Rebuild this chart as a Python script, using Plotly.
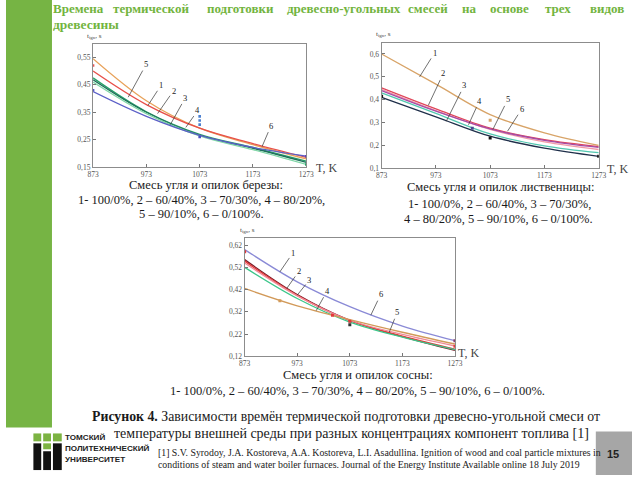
import plotly.graph_objects as go

# ---------------- data ----------------
T = [873, 973, 1073, 1173, 1273]
T_TICKS = [873, 973, 1073, 1173, 1273]

# Chart 1: birch
birch_5 = [0.545, 0.392, 0.292, 0.232, 0.180]
birch_1 = [0.500, 0.378, 0.292, 0.236, 0.186]
birch_2 = [0.475, 0.352, 0.270, 0.222, 0.172]
birch_3 = [0.468, 0.350, 0.267, 0.219, 0.168]
birch_4 = [0.460, 0.345, 0.264, 0.214, 0.160]
birch_6 = [0.425, 0.335, 0.266, 0.222, 0.190]
birch_pts_T = [873, 873, 1073, 1073, 1073, 1073, 1273, 1273]
birch_pts_v = [0.520, 0.430, 0.335, 0.320, 0.305, 0.260, 0.190, 0.160]
birch_yticks = [0.15, 0.25, 0.35, 0.45, 0.55]
birch_ylabels = ["0,15", "0,25", "0,35", "0,45", "0,55"]

# Chart 2: larch
larch_1 = [0.600, 0.468, 0.335, 0.255, 0.200]
larch_2 = [0.452, 0.360, 0.275, 0.225, 0.195]
larch_3 = [0.445, 0.352, 0.270, 0.215, 0.182]
larch_4 = [0.440, 0.350, 0.272, 0.222, 0.191]
larch_5 = [0.430, 0.340, 0.250, 0.198, 0.168]
larch_6 = [0.410, 0.325, 0.240, 0.188, 0.152]
larch_pts_T = [873, 1073, 1273, 1073, 1040]
larch_pts_v = [0.415, 0.232, 0.152, 0.310, 0.275]
larch_yticks = [0.1, 0.2, 0.3, 0.4, 0.5, 0.6]
larch_ylabels = ["0,1", "0,2", "0,3", "0,4", "0,5", "0,6"]

# Chart 3: pine
pine_1 = [0.600, 0.455, 0.343, 0.256, 0.190]
pine_2 = [0.555, 0.398, 0.282, 0.208, 0.146]
pine_3 = [0.548, 0.394, 0.280, 0.210, 0.152]
pine_4 = [0.540, 0.392, 0.282, 0.218, 0.166]
pine_5 = [0.520, 0.380, 0.274, 0.206, 0.150]
pine_6 = [0.425, 0.347, 0.285, 0.228, 0.175]
pine_pts_T = [873, 940, 1040, 1073, 1073, 1273, 1273]
pine_pts_v = [0.590, 0.370, 0.305, 0.278, 0.262, 0.190, 0.165]
pine_yticks = [0.12, 0.22, 0.32, 0.42, 0.52, 0.62]
pine_ylabels = ["0,12", "0,22", "0,32", "0,42", "0,52", "0,62"]

title_words = ["Времена", "термической", "подготовки", "древесно-угольных", "смесей",
               "на", "основе", "трех", "видов"]
title_line2 = "древесины"

# ---------------- helpers ----------------
W, H = 640, 480
def px(x): return x / W
def py(y): return 1 - y / H

fig = go.Figure()

GREEN = "#76b444"
TXT = "#1a1a1a"
SERIF = "Liberation Serif, Times New Roman, serif"
SANS = "Liberation Sans, Arial, sans-serif"

def add_lines(series, colors, xa, ya):
    for vals, c in zip(series, colors):
        fig.add_trace(go.Scatter(x=T, y=vals, mode="lines", xaxis=xa, yaxis=ya,
                                 line=dict(color=c, width=1.3, shape="spline", smoothing=1.0),
                                 showlegend=False, hoverinfo="skip"))

def add_pts(xs, ys, colors, xa, ya, size=3.5):
    fig.add_trace(go.Scatter(x=xs, y=ys, mode="markers", xaxis=xa, yaxis=ya,
                             marker=dict(color=colors, size=size, symbol="square"),
                             showlegend=False, hoverinfo="skip"))

add_lines([birch_5, birch_1, birch_2, birch_3, birch_4, birch_6],
          ["#e8a25a", "#e8504a", "#2aa36a", "#1f6f5c", "#7fd6a6", "#5b5fc7"], "x", "y")
add_pts(birch_pts_T, birch_pts_v,
        ["#e8504a", "#4a4fc0", "#4a7fd0", "#4a7fd0", "#4a7fd0", "#4a4fc0", "#6a40b0", "#2aa36a"], "x", "y", 2.6)

add_lines([larch_1, larch_2, larch_3, larch_4, larch_5, larch_6],
          ["#d8a468", "#e0475a", "#f29aa8", "#a64ca6", "#52c7b0", "#1f2f4a"], "x2", "y2")
add_pts(larch_pts_T, larch_pts_v, ["#111", "#111", "#111", "#d8a468", "#4a4a90"], "x2", "y2", 3)

add_lines([pine_1, pine_2, pine_3, pine_4, pine_5, pine_6],
          ["#8a8ad6", "#7a1e2a", "#e23a3a", "#f08a96", "#3cc68a", "#d29a5a"], "x3", "y3")
add_pts(pine_pts_T, pine_pts_v, ["#e23a3a", "#d29a5a", "#e23a3a", "#e23a3a", "#333", "#8a3a6a", "#e23a3a"], "x3", "y3", 3)

def xaxis(dom, anchor):
    return dict(domain=dom, anchor=anchor, range=[873, 1273], tickvals=T_TICKS,
                ticktext=[str(t) for t in T_TICKS], ticks="inside", ticklen=3,
                tickcolor="#777", showgrid=False, zeroline=False, showline=True,
                linecolor="#8c8c8c", linewidth=1.2, mirror=True,
                tickfont=dict(family=SERIF, size=7.5, color="#555"))

def yaxis(dom, anchor, rng, tv, tt):
    return dict(domain=dom, anchor=anchor, range=rng, tickvals=tv, ticktext=tt,
                ticks="inside", ticklen=3, tickcolor="#777", showgrid=False,
                zeroline=False, showline=True, linecolor="#8c8c8c", linewidth=1.2,
                mirror=True, tickfont=dict(family=SERIF, size=7.5, color="#555"))

fig.update_layout(
    width=W, height=H, autosize=False, margin=dict(l=0, r=0, t=0, b=0),
    paper_bgcolor="white", plot_bgcolor="white",
    xaxis=xaxis([px(89), px(307)], "y"),
    yaxis=yaxis([py(169), py(44)], "x", [0.15, 0.60], birch_yticks, birch_ylabels),
    xaxis2=xaxis([px(384), px(606)], "y2"),
    yaxis2=yaxis([py(170), py(43)], "x2", [0.10, 0.65], larch_yticks, larch_ylabels),
    xaxis3=xaxis([px(244), px(459)], "y3"),
    yaxis3=yaxis([py(360), py(241)], "x3", [0.12, 0.65], pine_yticks, pine_ylabels),
)

ann = []
def text(x, y, s, size, xanchor="center", color=TXT, family=SERIF):
    ann.append(dict(x=px(x), y=py(y), xref="paper", yref="paper", text=s, showarrow=False,
                    xanchor=xanchor, yanchor="middle", borderpad=0,
                    font=dict(family=family, size=size, color=color)))

# title (justified by placing words)
word_x = [47, 108, 204, 286, 410, 465, 494, 550, 596]
for wx, w in zip(word_x, title_words):
    text(wx, 9, "<b>" + w + "</b>", 13, "left", "#72b43e")
text(47, 25, "<b>" + title_line2 + "</b>", 13.5, "left", "#72b43e")

# axis titles
for (x, y) in [(82, 36), (377, 34), (238, 232)]:
    text(x, y, "t<sub>ign</sub>, s", 7, "left", "#444")
for (x, y) in [(316, 170), (613, 171), (461, 357)]:
    text(x, y, "T, K", 12, "left", "#444")

# captions
text(204, 187, "Смесь угля и опилок березы:", 12.5)
text(200, 202, "1- 100/0%, 2 – 60/40%, 3 – 70/30%, 4 – 80/20%,", 12.5)
text(200, 216, "5 – 90/10%, 6 – 0/100%.", 12.5)
text(506, 189, "Смесь угля и опилок лиственницы:", 12.5)
text(505, 206, "1- 100/0%, 2 – 60/40%, 3 – 70/30%,", 12.5)
text(504, 221, "4 – 80/20%, 5 – 90/10%, 6 – 0/100%.", 12.5)
text(360, 379, "Смесь угля и опилок сосны:", 12.5)
text(359, 395, "1- 100/0%, 2 – 60/40%, 3 – 70/30%, 4 – 80/20%, 5 – 90/10%, 6 – 0/100%.", 12.5)

text(348, 421, "<b>Рисунок 4.</b> Зависимости времён термической подготовки древесно-угольной смеси от", 13.8)
text(353, 438, "температуры внешней среды при разных концентрациях компонент топлива [1]", 14)
text(154, 457, "[1] S.V. Syrodoy, J.A. Kostoreva, A.A. Kostoreva, L.I. Asadullina. Ignition of wood and coal particle mixtures in", 9.8, "left")
text(154, 469, "conditions of steam and water boiler furnaces. Journal of the Energy Institute Available online 18 July 2019", 9.8, "left")

# logo text
text(59, 442, "<b>ТОМСКИЙ</b>", 8.1, "left", "#222", SANS)
text(59, 453, "<b>ПОЛИТЕХНИЧЕСКИЙ</b>", 8.1, "left", "#222", SANS)
text(59, 464, "<b>УНИВЕРСИТЕТ</b>", 8.1, "left", "#222", SANS)
text(621, 459, "<b>15</b>", 11, "center", "#222", SANS)

# curve number labels with leaders
def lab(s, x, y, ax, ay, xr, yr):
    ann.append(dict(x=x, y=y, xref=xr, yref=yr, text=s, showarrow=True, arrowhead=0,
                    arrowwidth=0.7, arrowcolor="#333", ax=ax, ay=ay, standoff=0,
                    font=dict(family=SERIF, size=8.5, color="#222")))

for s, x, y, ax, ay in [("5", 939, 0.405, 18, -33), ("1", 976, 0.375, 13, -20),
                        ("2", 994, 0.345, 16, -23), ("3", 1018, 0.305, 15, -27),
                        ("4", 1047, 0.295, 12, -17), ("6", 1190, 0.225, 9, -21)]:
    lab(s, x, y, ax, ay, "x", "y")
for s, x, y, ax, ay in [("1", 943, 0.50, 15, -24), ("2", 959, 0.375, 15, -32),
                        ("3", 992, 0.305, 18, -36), ("4", 1033, 0.290, 11, -24),
                        ("5", 1078, 0.270, 15, -30), ("6", 1105, 0.262, 14, -22)]:
    lab(s, x, y, ax, ay, "x2", "y2")
for s, x, y, ax, ay in [("1", 940, 0.500, 13, -19), ("2", 953, 0.425, 12, -17),
                        ("3", 973, 0.395, 12, -15), ("4", 1009, 0.325, 11, -20),
                        ("6", 1113, 0.305, 10, -21), ("5", 1148, 0.228, 8, -20)]:
    lab(s, x, y, ax, ay, "x3", "y3")

fig.update_layout(annotations=ann)

# shapes: green bar, gray box, logo
shapes = [
    dict(type="rect", xref="paper", yref="paper", x0=0, x1=px(47), y0=py(432), y1=1,
         fillcolor=GREEN, line=dict(width=0), layer="below"),
    dict(type="rect", xref="paper", yref="paper", x0=px(603), x1=1, y0=0, y1=py(436),
         fillcolor="#a6a6a6", line=dict(width=0), layer="below"),
]
logo = [
    (28, 438, 36, 446, "#7cb342"), (38, 438, 46, 446, "#7cb342"), (48, 438, 57, 446, "#7cb342"),
    (28, 448, 36, 475, "#111"), (38, 448, 46, 454, "#7cb342"), (38, 456, 46, 475, "#111"),
    (48, 448, 57, 475, "#111"),
]
for x0, y0, x1, y1, c in logo:
    shapes.append(dict(type="rect", xref="paper", yref="paper", x0=px(x0), x1=px(x1),
                       y0=py(y1), y1=py(y0), fillcolor=c, line=dict(width=0)))
fig.update_layout(shapes=shapes)

fig.write_html("out.html")
